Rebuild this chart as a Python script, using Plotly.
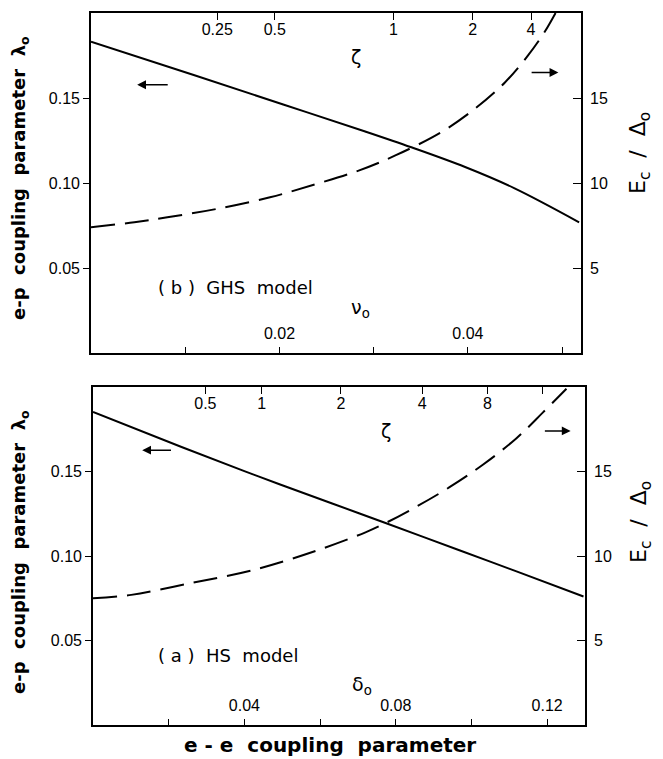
import plotly.graph_objects as go

# ---------------- data ----------------
# (b) GHS model (top panel): x = nu_o
nu0_solid = [0.0, 0.0109, 0.0204, 0.0291, 0.0340, 0.0397, 0.0449, 0.0518]
lam_ghs = [0.1831, 0.1635, 0.1462, 0.1303, 0.1210, 0.1094, 0.0970, 0.0769]
nu0_dash = [0.0, 0.0046, 0.0081, 0.0133, 0.0190, 0.0239, 0.0284, 0.0323,
            0.0372, 0.0407, 0.0439, 0.0463, 0.0481, 0.0493]
ec_ghs = [7.40, 7.69, 7.98, 8.47, 9.16, 9.94, 10.73, 11.62,
          13.00, 14.35, 15.90, 17.45, 18.85, 20.0]
nu0_ticks = [0.01, 0.02, 0.03, 0.04, 0.05]
nu0_ticktext = ["", "0.02", "", "0.04", ""]
zeta_ghs_pos = [0.0134, 0.0195, 0.0321, 0.0405, 0.0467]
zeta_ghs_text = ["0.25", "0.5", "1", "2", "4"]

# (a) HS model (bottom panel): x = delta_o
d0_solid = [0.0, 0.0234, 0.0437, 0.0632, 0.0773, 0.0968, 0.1119, 0.1296]
lam_hs = [0.1852, 0.1645, 0.1471, 0.1311, 0.1195, 0.1034, 0.0909, 0.0760]
d0_dash = [0.0, 0.0101, 0.0260, 0.0428, 0.0588, 0.0720, 0.0773, 0.0853,
           0.0942, 0.1030, 0.1119, 0.1189, 0.1251]
ec_hs = [7.50, 7.70, 8.40, 9.20, 10.30, 11.40, 11.95, 12.90,
         14.07, 15.40, 16.97, 18.50, 19.90]
d0_ticks = [0.02, 0.04, 0.06, 0.08, 0.10, 0.12]
d0_ticktext = ["", "0.04", "", "0.08", "", "0.12"]
zeta_hs_pos = [0.0297, 0.0446, 0.0655, 0.0870, 0.1042, 0.1187]
zeta_hs_text = ["0.5", "1", "2", "4", "8", ""]

lam_ticks = [0.05, 0.10, 0.15]
lam_ticktext = ["0.05", "0.10", "0.15"]
ec_ticks = [5, 10, 15]
ec_ticktext = ["5", "10", "15"]

# ---------------- figure ----------------
W, H = 663, 759
TF = dict(family="Liberation Sans", size=16, color="black")
LINE = dict(showline=True, linecolor="black", linewidth=1.6, showgrid=False,
            zeroline=False, tickcolor="black", tickwidth=1.4, tickfont=TF)

fig = go.Figure()
fig.add_trace(go.Scatter(x=nu0_solid, y=lam_ghs, mode="lines", xaxis="x", yaxis="y",
                         line=dict(color="black", width=2, shape="spline")))
fig.add_trace(go.Scatter(x=nu0_dash, y=ec_ghs, mode="lines", xaxis="x", yaxis="y3",
                         line=dict(color="black", width=2, dash="24px,10px", shape="spline")))
fig.add_trace(go.Scatter(x=d0_solid, y=lam_hs, mode="lines", xaxis="x2", yaxis="y2",
                         line=dict(color="black", width=2, shape="spline")))
fig.add_trace(go.Scatter(x=d0_dash, y=ec_hs, mode="lines", xaxis="x2", yaxis="y4",
                         line=dict(color="black", width=2, dash="24px,10px", shape="spline")))
# empty traces so that the top (zeta) axes are drawn
fig.add_trace(go.Scatter(x=[None], y=[None], mode="lines", xaxis="x3", yaxis="y",
                         hoverinfo="skip"))
fig.add_trace(go.Scatter(x=[None], y=[None], mode="lines", xaxis="x4", yaxis="y2",
                         hoverinfo="skip"))

top_x = [91 / W, 581 / W]
top_y = [1 - 353 / H, 1 - 13 / H]
bot_x = [93 / W, 585 / W]
bot_y = [1 - 725 / H, 1 - 387 / H]

fig.update_layout(
    width=W, height=H, margin=dict(l=0, r=0, t=0, b=0),
    paper_bgcolor="white", plot_bgcolor="white", showlegend=False,
    xaxis=dict(domain=top_x, anchor="y", range=[0, 0.052], tickmode="array",
               tickvals=nu0_ticks, ticktext=nu0_ticktext, ticks="inside", ticklen=6,
               ticklabelposition="inside", ticklabelstandoff=5, **LINE),
    xaxis3=dict(overlaying="x", side="top", anchor="y", range=[0, 0.052], tickmode="array",
                tickvals=zeta_ghs_pos, ticktext=zeta_ghs_text, ticks="inside", ticklen=7,
                ticklabelposition="inside", ticklabelstandoff=4, **LINE),
    yaxis=dict(domain=top_y, anchor="x", range=[0, 0.2], tickmode="array",
               tickvals=lam_ticks, ticktext=lam_ticktext, ticks="outside", ticklen=6, **LINE),
    yaxis3=dict(overlaying="y", side="right", anchor="x", range=[0, 20], tickmode="array",
                tickvals=ec_ticks, ticktext=ec_ticktext, ticks="inside", ticklen=8,
                ticklabelstandoff=4, **LINE),
    xaxis2=dict(domain=bot_x, anchor="y2", range=[0, 0.13], tickmode="array",
                tickvals=d0_ticks, ticktext=d0_ticktext, ticks="inside", ticklen=6,
                ticklabelposition="inside", ticklabelstandoff=5, **LINE),
    xaxis4=dict(overlaying="x2", side="top", anchor="y2", range=[0, 0.13], tickmode="array",
                tickvals=zeta_hs_pos, ticktext=zeta_hs_text, ticks="inside", ticklen=7,
                ticklabelposition="inside", ticklabelstandoff=4, **LINE),
    yaxis2=dict(domain=bot_y, anchor="x2", range=[0, 0.2], tickmode="array",
                tickvals=lam_ticks, ticktext=lam_ticktext, ticks="outside", ticklen=6, **LINE),
    yaxis4=dict(overlaying="y2", side="right", anchor="x2", range=[0, 20], tickmode="array",
                tickvals=ec_ticks, ticktext=ec_ticktext, ticks="inside", ticklen=8,
                ticklabelstandoff=4, **LINE),
)

TXT = dict(family="DejaVu Sans", size=18, color="black")
GR = dict(family="DejaVu Sans", size=19, color="black")
C = dict(xanchor="center", yanchor="middle", showarrow=False)
ann = []
# panel texts
ann.append(dict(x=0.0153, y=0.0386, xref="x", yref="y", text="( b )  GHS  model",
                font=TXT, **C))
ann.append(dict(x=0.0281, y=0.174, xref="x", yref="y", text="ζ", font=GR, **C))
ann.append(dict(x=0.0286, y=0.0259, xref="x", yref="y", text="ν<sub>o</sub>", font=GR, **C))
ann.append(dict(x=0.0358, y=0.0414, xref="x2", yref="y2", text="( a )  HS  model",
                font=TXT, **C))
ann.append(dict(x=0.0773, y=0.174, xref="x2", yref="y2", text="ζ", font=GR, **C))
ann.append(dict(x=0.0711, y=0.0234, xref="x2", yref="y2", text="δ<sub>o</sub>", font=GR, **C))
# arrows
AR = dict(text="", showarrow=True, arrowhead=2, arrowsize=1.1, arrowwidth=1.6,
          arrowcolor="black")
ann.append(dict(x=0.0049, y=0.1578, ax=0.0083, ay=0.1578, xref="x", yref="y",
                axref="x", ayref="y", **AR))
ann.append(dict(x=0.0496, y=16.5, ax=0.0466, ay=16.5, xref="x", yref="y3",
                axref="x", ayref="y3", **AR))
ann.append(dict(x=0.0130, y=0.1626, ax=0.0210, ay=0.1626, xref="x2", yref="y2",
                axref="x2", ayref="y2", **AR))
ann.append(dict(x=0.1262, y=17.4, ax=0.1190, ay=17.4, xref="x2", yref="y4",
                axref="x2", ayref="y4", **AR))
# axis titles
LT = dict(family="DejaVu Sans", size=18, color="black", weight="bold")
ann.append(dict(x=20 / W, y=1 - 178 / H, xref="paper", yref="paper", textangle=-90,
                text="e-p  coupling  parameter  λ<sub>o</sub>", font=LT, **C))
ann.append(dict(x=20 / W, y=1 - 552 / H, xref="paper", yref="paper", textangle=-90,
                text="e-p  coupling  parameter  λ<sub>o</sub>", font=LT, **C))
RT = dict(family="DejaVu Sans", size=22, color="black")
ann.append(dict(x=640 / W, y=1 - 153 / H, xref="paper", yref="paper", textangle=-90,
                text="E<sub>c</sub>  /  Δ<sub>o</sub>", font=RT, **C))
ann.append(dict(x=640 / W, y=1 - 522 / H, xref="paper", yref="paper", textangle=-90,
                text="E<sub>c</sub>  /  Δ<sub>o</sub>", font=RT, **C))
ann.append(dict(x=330 / W, y=1 - 745 / H, xref="paper", yref="paper",
                text="e - e  coupling  parameter",
                font=dict(family="DejaVu Sans", size=20, color="black", weight="bold"), **C))
fig.update_layout(annotations=ann)

fig.write_html("out.html")
